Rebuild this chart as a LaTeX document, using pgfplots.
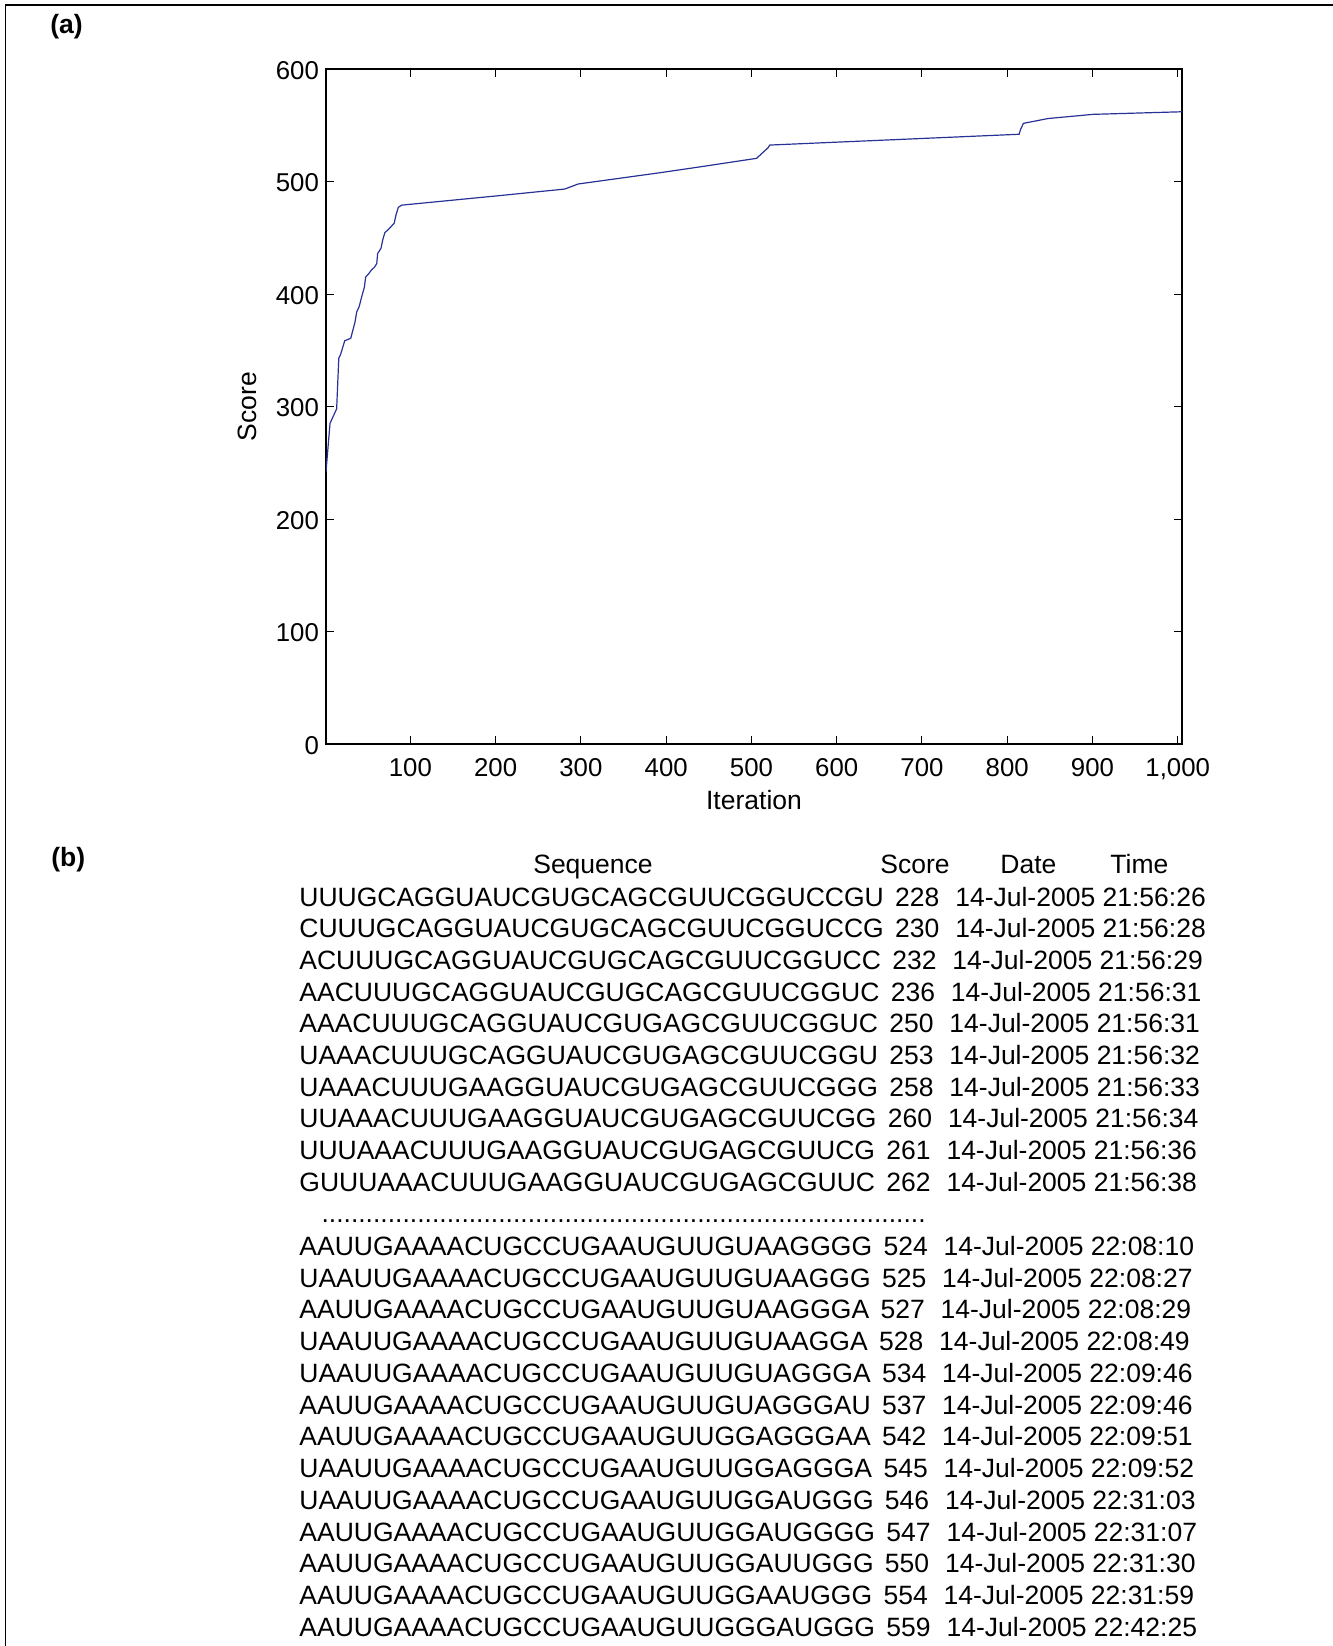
\documentclass[border=0pt]{standalone}
\usepackage{fontspec}
\setmainfont{Liberation Sans}
\usepackage{pgfplots}
\pgfplotsset{compat=1.18}

\definecolor{curveblue}{RGB}{40,50,150}
\newcommand{\tabfont}{\fontsize{13.25}{16}\selectfont}
% one line of the sequence listing: baseline y (px), sequence, score, date, time
\newcommand{\seqrow}[5]{\node[anchor=base west, inner sep=0, font=\tabfont] at (299,#1) {#2\hspace{0.43em}#3\hspace{0.6em}#4 #5};}

\begin{document}
\begin{tikzpicture}[x=0.5pt, y=-0.5pt]
\useasboundingbox (0,0) rectangle (1333,1646);

% frame
\draw[line width=0.65pt] (5.5,1646) -- (5.5,5) -- (1333,5);

% panel letters
\node[anchor=base west, inner sep=0, font=\tabfont\bfseries] at (50,33) {(a)};
\node[anchor=base west, inner sep=0, font=\tabfont\bfseries] at (51,866) {(b)};

\begin{axis}[
    at={(163pt,-372pt)}, anchor=south west,
    scale only axis,
    width=428pt, height=337.5pt,
    xmin=1, xmax=1005,
    ymin=0, ymax=600,
    xtick={100,200,...,1000},
    ytick={0,100,...,600},
    tick align=inside,
    xtick pos=both, ytick pos=both,
    major tick length=4pt,
    axis line style={line width=0.65pt},
    every tick/.style={black, line width=0.5pt},
    /pgf/number format/assume math mode=true,
    tick label style={font=\fontsize{12.9}{15}\selectfont},
    xticklabel style={yshift=-3.9pt},
    yticklabel style={yshift=-0.8pt},
    label style={font=\tabfont},
    xlabel={Iteration},
    ylabel={Score},
    xlabel style={at={(axis description cs:0.5,-0.0674)}, anchor=north, inner sep=0},
    ylabel style={at={(axis description cs:-0.0806,0.5)}, anchor=south, inner sep=0},
]
\addplot[color=curveblue, line width=0.6pt] coordinates {
    (1,242) (5.7,285) (13.5,298) (16,343) (18,346) (23,358.5) (30,360.6)
    (35,375) (37,384) (40,389) (43,398) (46,406) (47.5,415) (51,418)
    (54,421) (58,424) (60.5,427) (61.6,436) (65.5,440.6) (67.5,448)
    (70,454.5) (75,458) (81,463) (83,470) (85.8,477) (89.7,479)
    (205,487.5) (281,493.3) (296.8,497.8) (392.6,507.8) (439.5,513)
    (506,520.6) (519.5,530) (521.5,532.4) (814,542) (815.5,546)
    (819,551.7) (848,556) (900.7,559.7) (1005,562)
};
\end{axis}

% listing header
\node[anchor=base, inner sep=0, font=\tabfont] at (593,873) {Sequence};
\node[anchor=base west, inner sep=0, font=\tabfont] at (880,873) {Score};
\node[anchor=base west, inner sep=0, font=\tabfont] at (1000,873) {Date};
\node[anchor=base west, inner sep=0, font=\tabfont] at (1110,873) {Time};

% first block
\seqrow{906.0}{UUUGCAGGUAUCGUGCAGCGUUCGGUCCGU}{228}{14-Jul-2005}{21:56:26}
\seqrow{937.7}{CUUUGCAGGUAUCGUGCAGCGUUCGGUCCG}{230}{14-Jul-2005}{21:56:28}
\seqrow{969.4}{ACUUUGCAGGUAUCGUGCAGCGUUCGGUCC}{232}{14-Jul-2005}{21:56:29}
\seqrow{1001.1}{AACUUUGCAGGUAUCGUGCAGCGUUCGGUC}{236}{14-Jul-2005}{21:56:31}
\seqrow{1032.8}{AAACUUUGCAGGUAUCGUGAGCGUUCGGUC}{250}{14-Jul-2005}{21:56:31}
\seqrow{1064.5}{UAAACUUUGCAGGUAUCGUGAGCGUUCGGU}{253}{14-Jul-2005}{21:56:32}
\seqrow{1096.2}{UAAACUUUGAAGGUAUCGUGAGCGUUCGGG}{258}{14-Jul-2005}{21:56:33}
\seqrow{1127.9}{UUAAACUUUGAAGGUAUCGUGAGCGUUCGG}{260}{14-Jul-2005}{21:56:34}
\seqrow{1159.6}{UUUAAACUUUGAAGGUAUCGUGAGCGUUCG}{261}{14-Jul-2005}{21:56:36}
\seqrow{1191.3}{GUUUAAACUUUGAAGGUAUCGUGAGCGUUC}{262}{14-Jul-2005}{21:56:38}

% dotted separator
\node[anchor=base west, inner sep=0, font=\tabfont] at (320,1222) {\hbox to 303pt{\cleaders\hbox{.}\hfill}};

% second block
\seqrow{1255.4}{AAUUGAAAACUGCCUGAAUGUUGUAAGGGG}{524}{14-Jul-2005}{22:08:10}
\seqrow{1287.2}{UAAUUGAAAACUGCCUGAAUGUUGUAAGGG}{525}{14-Jul-2005}{22:08:27}
\seqrow{1318.9}{AAUUGAAAACUGCCUGAAUGUUGUAAGGGA}{527}{14-Jul-2005}{22:08:29}
\seqrow{1350.7}{UAAUUGAAAACUGCCUGAAUGUUGUAAGGA}{528}{14-Jul-2005}{22:08:49}
\seqrow{1382.4}{UAAUUGAAAACUGCCUGAAUGUUGUAGGGA}{534}{14-Jul-2005}{22:09:46}
\seqrow{1414.2}{AAUUGAAAACUGCCUGAAUGUUGUAGGGAU}{537}{14-Jul-2005}{22:09:46}
\seqrow{1445.9}{AAUUGAAAACUGCCUGAAUGUUGGAGGGAA}{542}{14-Jul-2005}{22:09:51}
\seqrow{1477.7}{UAAUUGAAAACUGCCUGAAUGUUGGAGGGA}{545}{14-Jul-2005}{22:09:52}
\seqrow{1509.4}{UAAUUGAAAACUGCCUGAAUGUUGGAUGGG}{546}{14-Jul-2005}{22:31:03}
\seqrow{1541.2}{AAUUGAAAACUGCCUGAAUGUUGGAUGGGG}{547}{14-Jul-2005}{22:31:07}
\seqrow{1572.9}{AAUUGAAAACUGCCUGAAUGUUGGAUUGGG}{550}{14-Jul-2005}{22:31:30}
\seqrow{1604.7}{AAUUGAAAACUGCCUGAAUGUUGGAAUGGG}{554}{14-Jul-2005}{22:31:59}
\seqrow{1636.4}{AAUUGAAAACUGCCUGAAUGUUGGGAUGGG}{559}{14-Jul-2005}{22:42:25}
\end{tikzpicture}
\end{document}
